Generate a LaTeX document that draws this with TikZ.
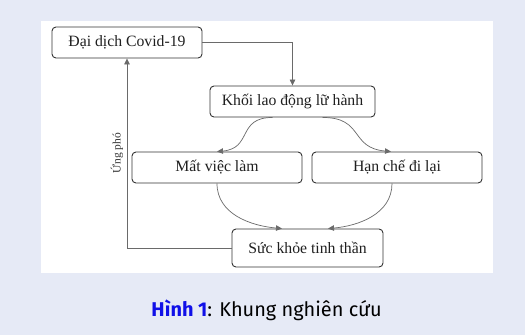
\documentclass[tikz,border=0pt]{standalone}
\usepackage{fontspec}
\setmainfont{Liberation Serif}
\newfontfamily\capfont{Fira Sans}
\usetikzlibrary{arrows.meta}
\definecolor{bgc}{HTML}{E6EAF6}
\definecolor{capblue}{HTML}{1010E8}
\definecolor{boxline}{HTML}{333333}
\definecolor{connc}{HTML}{6A6A6A}
\tikzset{
  box/.style={draw=boxline, line width=0.9bp, rounded corners=4bp, fill=white,
    inner sep=0pt, text=black!88, font=\fontsize{15.8}{18}\selectfont},
  conn/.style={draw=connc, line width=0.7bp, -{Triangle[length=6bp,width=5.5bp]}},
  lbl/.style={font=\fontsize{11.5}{13}\selectfont, text=black!80},
}
\begin{document}
\begin{tikzpicture}[x=1bp,y=-1bp]
\useasboundingbox (0,0) rectangle (525,335);
\fill[bgc] (0,0) rectangle (525,335);
\fill[white] (41,21) rectangle (493,273);

\node[box, minimum width=150bp, minimum height=31bp] (covid) at (127,42.5) {Đại dịch Covid-19};
\node[box, minimum width=165bp, minimum height=31bp] (khoi) at (292.5,101.5) {Khối lao động lữ hành};
\node[box, minimum width=170bp, minimum height=31bp] (mat) at (217,167.5) {Mất việc làm};
\node[box, minimum width=170bp, minimum height=31bp] (han) at (397,167.5) {Hạn chế đi lại};
\node[box, minimum width=151bp, minimum height=38bp] (suc) at (307.5,248) {Sức khỏe tinh thần};

\draw[conn] (covid.east) -| (khoi.north);
\draw[conn] (suc.west) -| (covid.south)
  node[lbl, pos=0.75, xshift=-10bp, rotate=90, anchor=center, inner sep=0pt] {Ứng phó};

\draw[conn] ([xshift=-20bp]khoi.south) to[out=180,in=5,looseness=1.4] (mat.north);
\draw[conn] ([xshift=30bp]khoi.south) to[out=0,in=175,looseness=1.4] ([xshift=-6bp]han.north);
\draw[conn] (mat.south) to[out=-90,in=175] ([xshift=-25.5bp]suc.north);
\draw[conn] ([xshift=-5bp]han.south) to[out=-90,in=5] ([xshift=20.5bp]suc.north);

\node[anchor=base, font=\capfont\fontsize{20}{22}\selectfont] (cap) at (266.5,316.5)
  {{\bfseries\color{capblue}Hình 1}: Khung nghiên cứu};
\end{tikzpicture}
\end{document}
